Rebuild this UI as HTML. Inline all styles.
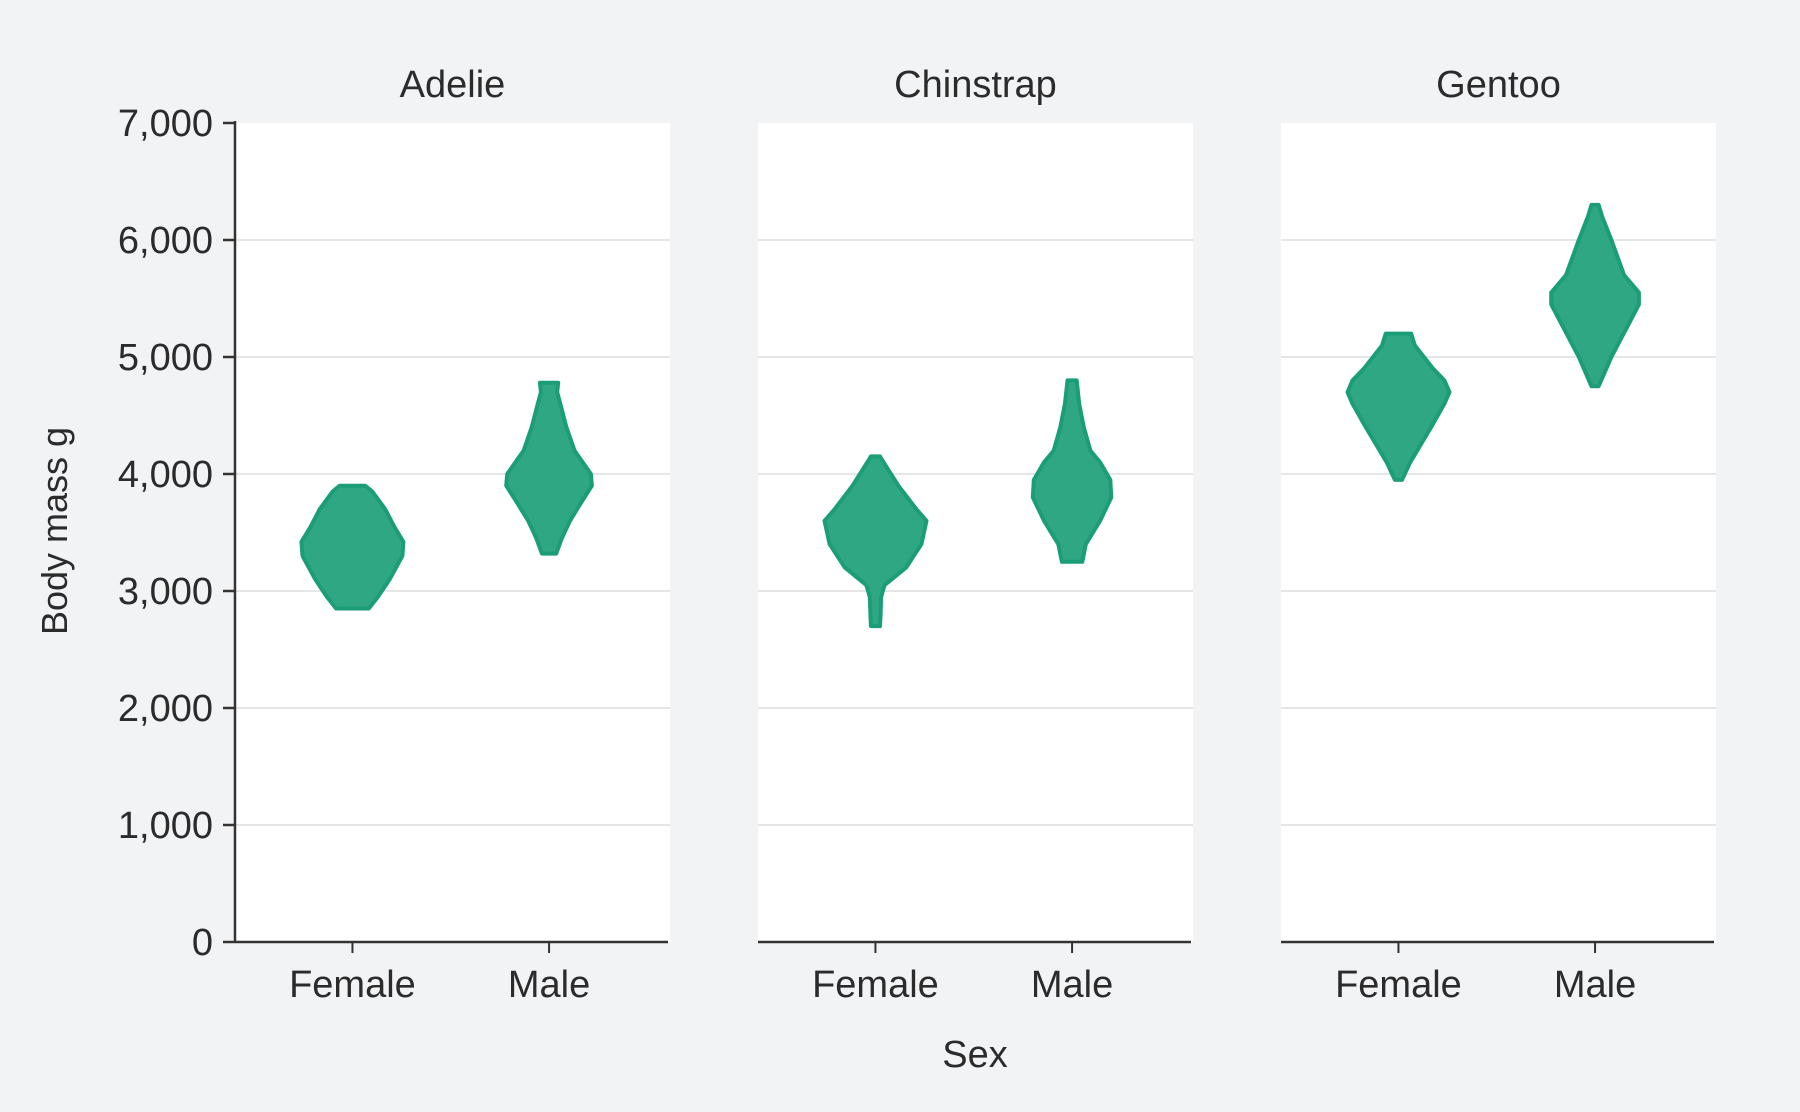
<!DOCTYPE html>
<html><head><meta charset="utf-8"><style>
html,body{margin:0;padding:0;background:#f2f3f5;}
svg{display:block;font-family:"Liberation Sans",Arial,sans-serif;}
</style></head><body>
<svg id="chart" width="1800" height="1112" viewBox="0 0 1800 1112" xmlns="http://www.w3.org/2000/svg">
<rect width="1800" height="1112" fill="#f2f3f5"/>
<g id="layer"></g>
</svg>
<script>
const species = ["Adelie","Chinstrap","Gentoo"];
const sexes = ["Female","Male"];
const yTicks = [0,1000,2000,3000,4000,5000,6000,7000];
const yTickLabels = ["0","1,000","2,000","3,000","4,000","5,000","6,000","7,000"];
// violin profiles: masses (g) and relative density (half-width, 0..1)
const adelieFemaleMass = [2850,2950,3100,3300,3420,3550,3700,3850,3900];
const adelieFemaleDens = [0.32,0.5,0.73,0.98,1.0,0.82,0.64,0.39,0.25];
const adelieMaleMass = [3320,3450,3600,3750,3900,4000,4200,4400,4600,4700,4780];
const adelieMaleDens = [0.14,0.25,0.41,0.62,0.84,0.82,0.5,0.34,0.22,0.16,0.18];
const chinFemaleMass = [2700,2800,2950,3050,3200,3400,3600,3700,3900,4100,4150];
const chinFemaleDens = [0.09,0.1,0.11,0.18,0.6,0.9,1.0,0.8,0.45,0.16,0.09];
const chinMaleMass = [3250,3400,3600,3800,3950,4100,4200,4400,4600,4800];
const chinMaleDens = [0.2,0.27,0.55,0.77,0.75,0.55,0.36,0.23,0.14,0.09];
const gentFemaleMass = [3950,4100,4400,4600,4700,4800,4900,5100,5200];
const gentFemaleDens = [0.07,0.23,0.64,0.9,1.0,0.9,0.68,0.32,0.25];
const gentMaleMass = [4750,5000,5300,5450,5550,5700,6000,6200,6300];
const gentMaleDens = [0.07,0.32,0.68,0.86,0.86,0.57,0.32,0.14,0.07];

const violins = [
  [[adelieFemaleMass,adelieFemaleDens],[adelieMaleMass,adelieMaleDens]],
  [[chinFemaleMass,chinFemaleDens],[chinMaleMass,chinMaleDens]],
  [[gentFemaleMass,gentFemaleDens],[gentMaleMass,gentMaleDens]]
];

const NS="http://www.w3.org/2000/svg";
const layer=document.getElementById('layer');
function mk(tag,attrs,parent){const e=document.createElementNS(NS,tag);for(const k in attrs)e.setAttribute(k,attrs[k]);(parent||layer).appendChild(e);return e;}

const panelX=[235,758,1281], panelW=435, plotTop=123, plotBottom=942;
const yMax=7000;
function yScale(v){return plotBottom-(v/yMax)*(plotBottom-plotTop);}
function xCat(p,i){return panelX[p]+panelW*(i===0?0.27:0.722);}
const maxHalf=51;

species.forEach((sp,p)=>{
  const g=mk('g',{});
  
  
  const bg=mk('rect',{x:panelX[p],y:plotTop,width:panelW,height:plotBottom-plotTop,fill:'#ffffff'},g);
  
  
  yTicks.forEach((t)=>{
    if(t===0||t===yMax)return;
    const gl=mk('line',{x1:panelX[p],x2:panelX[p]+panelW,y1:yScale(t),y2:yScale(t),stroke:'#d6d6d6','stroke-width':1.2},g);
    
    
  });
  const ttl=mk('text',{x:panelX[p]+panelW/2,y:97,'text-anchor':'middle','font-size':38,fill:'#2b2b2b'},g);
  ttl.textContent=sp;
  
  
  const ax=mk('line',{x1:panelX[p],x2:panelX[p]+panelW-2,y1:plotBottom,y2:plotBottom,stroke:'#333','stroke-width':2.5},g);
  
  
  sexes.forEach((s,i)=>{
    const cx=xCat(p,i);
    const tk=mk('line',{x1:cx,x2:cx,y1:plotBottom,y2:plotBottom+11,stroke:'#333','stroke-width':2},g);
    
    
    const tl=mk('text',{x:cx,y:997,'text-anchor':'middle','font-size':38,fill:'#2b2b2b'},g);
    tl.textContent=s;
    
    
    const m=violins[p][i][0], d=violins[p][i][1];
    const right=[],left=[];
    for(let k=0;k<m.length;k++){right.push([cx+d[k]*maxHalf,yScale(m[k])]);}
    for(let k=m.length-1;k>=0;k--){left.push([cx-d[k]*maxHalf,yScale(m[k])]);}
    const pts=right.concat(left).map(q=>q[0].toFixed(1)+','+q[1].toFixed(1)).join(' ');
    const v=mk('polygon',{points:pts,fill:'#2fa783',stroke:'#1b9e77','stroke-width':4,'stroke-linejoin':'round'},g);
    
    
  });
});

const yax=mk('line',{x1:235,x2:235,y1:plotTop-2,y2:plotBottom+1,stroke:'#333','stroke-width':2.5});


yTicks.forEach((t,i)=>{
  const tk=mk('line',{x1:223,x2:235,y1:yScale(t),y2:yScale(t),stroke:'#333','stroke-width':2.5});
  
  
  const tl=mk('text',{x:213,y:yScale(t)+13,'text-anchor':'end','font-size':38,fill:'#2b2b2b'});
  tl.textContent=yTickLabels[i];
  
  
});
const yt=mk('text',{x:0,y:0,'text-anchor':'middle','font-size':36,fill:'#2b2b2b',transform:'translate(67,531) rotate(-90)'});
yt.textContent='Body mass g';


const xt=mk('text',{x:975,y:1067,'text-anchor':'middle','font-size':38,fill:'#2b2b2b'});
xt.textContent='Sex';


</script>
</body></html>
